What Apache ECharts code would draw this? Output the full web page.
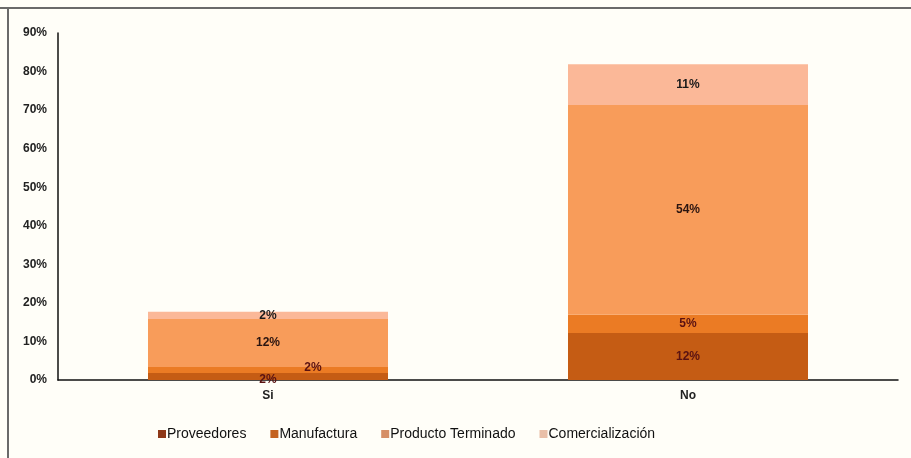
<!DOCTYPE html>
<html>
<head>
<meta charset="utf-8">
<script src="https://cdn.jsdelivr.net/npm/echarts@6/dist/echarts.min.js"></script>
<style>
  html, body { margin: 0; padding: 0; background: #fffef8; }
  #main { width: 911px; height: 458px; }
</style>
</head>
<body>
<div id="main"></div>
<script>
// datos
var categorias = ['Si', 'No'];
var proveedores = [1.8, 12.2];
var manufactura = [1.6, 4.7];
var productoTerminado = [12.4, 54.4];
var comercializacion = [1.9, 10.6];
var yTicks = [0, 10, 20, 30, 40, 50, 60, 70, 80, 90];

var chart = echarts.init(document.getElementById('main'));

function etiqueta(color) {
  return {
    show: true,
    position: 'inside',
    fontFamily: 'Liberation Sans',
    fontWeight: 'bold',
    fontSize: 12,
    color: color,
    formatter: function (p) { return Math.round(p.value) + '%'; }
  };
}

function serie(nombre, datos, color, labelColor) {
  return {
    name: nombre,
    type: 'bar',
    stack: 'total',
    barWidth: 240,
    data: datos,
    itemStyle: { color: color },
    label: etiqueta(labelColor)
  };
}

var sProv = serie('Proveedores', proveedores, '#c55c14', '#5a1212');
sProv.data = proveedores.map(function (v, i) {
  return i === 0 ? { value: v, label: { offset: [0, 3] } } : v;
});
var sManu = serie('Manufactura', manufactura, '#eb7b24', '#5a1212');
sManu.data = manufactura.map(function (v, i) {
  return i === 0 ? { value: v, label: { offset: [45, -2] } } : v;
});

chart.setOption({
  backgroundColor: '#fffef8',
  animation: false,
  grid: { left: 58, right: 13, top: 33, bottom: 78 },
  graphic: [
    { type: 'line', shape: { x1: 0, y1: 8, x2: 911, y2: 8 }, style: { stroke: '#6a6a6a', lineWidth: 2 } },
    { type: 'line', shape: { x1: 8, y1: 8, x2: 8, y2: 458 }, style: { stroke: '#6a6a6a', lineWidth: 2 } }
  ],
  legend: {
    left: 153,
    top: 422,
    itemWidth: 8,
    itemHeight: 8,
    itemGap: 24,
    icon: 'rect',
    textStyle: { fontFamily: 'Liberation Sans', fontSize: 14, color: '#111', padding: [0, 0, 0, -4] },
    data: [
      { name: 'Proveedores', itemStyle: { color: '#8e3818' } },
      { name: 'Manufactura', itemStyle: { color: '#c4621f' } },
      { name: 'Producto Terminado', itemStyle: { color: '#d68f66' } },
      { name: 'Comercialización', itemStyle: { color: '#e9bfa8' } }
    ]
  },
  xAxis: {
    type: 'category',
    data: categorias,
    axisLine: { lineStyle: { color: '#111', width: 1.5 } },
    axisTick: { show: false },
    axisLabel: { fontFamily: 'Liberation Sans', fontWeight: 'bold', fontSize: 12, color: '#222', margin: 10 }
  },
  yAxis: {
    type: 'value',
    min: yTicks[0],
    max: yTicks[yTicks.length - 1],
    interval: 10,
    axisLine: { show: true, lineStyle: { color: '#111', width: 1.5 } },
    axisTick: { show: false },
    splitLine: { show: false },
    axisLabel: {
      fontFamily: 'Liberation Sans', fontWeight: 'bold', fontSize: 12, color: '#222', margin: 11,
      formatter: '{value}%'
    }
  },
  series: [
    sProv,
    sManu,
    serie('Producto Terminado', productoTerminado, '#f89c5a', '#2a1410'),
    serie('Comercialización', comercializacion, '#fbb898', '#1a1a1a')
  ]
});
</script>
</body>
</html>
